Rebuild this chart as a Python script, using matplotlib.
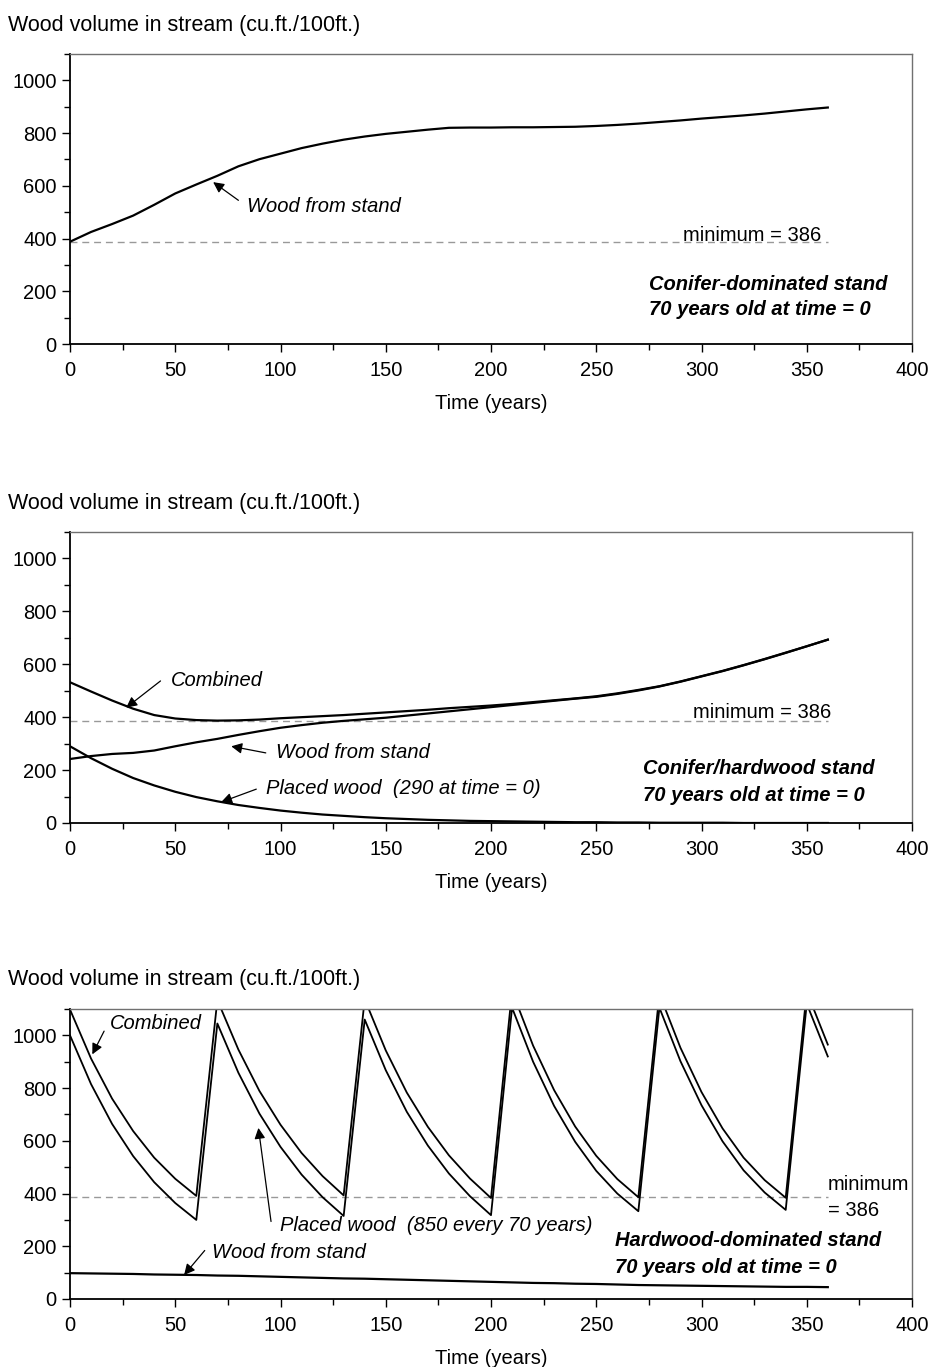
import numpy as np
import matplotlib.pyplot as plt
from matplotlib.ticker import MultipleLocator

plt.rcParams['font.family'] = ['Liberation Sans', 'DejaVu Sans']

# tiempo (años), salida cada 10 años
t = np.arange(0, 361, 10)
minimum = 386

# Panel 1: conifer-dominated
stand1 = [388, 425, 455, 487, 528, 571, 605, 638, 674, 701, 722, 743, 760, 775, 787, 797,
          805, 813, 820, 821, 821, 822, 822, 823, 824, 827, 831, 836, 842, 848, 855, 861,
          867, 874, 882, 890, 897]

# Panel 2: conifer/hardwood
stand2 = [242, 253, 261, 265, 274, 290, 305, 318, 333, 347, 360, 370, 379, 386, 392, 398,
          406, 414, 422, 430, 438, 446, 454, 462, 470, 477, 488, 501, 516, 534, 554, 574,
          596, 619, 643, 668, 693]
placed2 = [290, 245, 205, 170, 142, 118, 98, 82, 68, 57, 47, 39, 32, 27, 22, 18,
           15, 12, 10, 8, 7, 6, 5, 4, 3, 3, 2, 2, 1, 1, 1, 1,
           0, 0, 0, 0, 0]
combined2 = [532, 497, 463, 432, 408, 395, 389, 387, 388, 391, 396, 400, 404, 408, 413, 418,
             423, 428, 434, 439, 444, 450, 457, 464, 471, 479, 490, 503, 517, 535, 555, 575,
             597, 620, 644, 668, 693]

# Panel 3: hardwood-dominated (850 cada 70 años)
stand3 = [98, 97, 96, 95, 93, 92, 91, 89, 88, 86, 84, 82, 80, 78, 77, 75,
          73, 71, 69, 67, 65, 63, 61, 60, 58, 57, 55, 53, 52, 51, 50, 49,
          48, 47, 46, 46, 45]
placed3 = [1000, 815, 664, 542, 443, 364, 300,
           1045, 858, 703, 577, 472, 386, 315,
           1060, 868, 710, 582, 476, 390, 318,
           1105, 900, 732, 596, 486, 400, 333,
           1105, 902, 735, 598, 488, 404, 338,
           1120, 920]
combined3 = [1098, 912, 760, 637, 536, 456, 391,
             1134, 946, 789, 661, 554, 466, 393,
             1137, 943, 783, 653, 545, 457, 383,
             1168, 961, 792, 654, 543, 455, 386,
             1157, 953, 785, 647, 536, 451, 384,
             1166, 965]

W, H = 934, 1367
fig = plt.figure(figsize=(W / 100, H / 100), dpi=100)

FS = 14.5
arrow_kw = dict(arrowstyle='-|>', color='black', lw=0.9, mutation_scale=16,
                shrinkA=0, shrinkB=0)


def make_axes(top_px, bottom_px):
    ax = fig.add_axes([70 / W, 1 - bottom_px / H, (912 - 70) / W, (bottom_px - top_px) / H])
    ax.set_xlim(0, 400)
    ax.set_ylim(0, 1100)
    ax.xaxis.set_major_locator(MultipleLocator(50))
    ax.xaxis.set_minor_locator(MultipleLocator(25))
    ax.yaxis.set_major_locator(MultipleLocator(200))
    ax.yaxis.set_minor_locator(MultipleLocator(100))
    ax.tick_params(which='major', length=6, width=1, labelsize=FS)
    ax.tick_params(which='minor', length=4, width=1)
    ax.tick_params(axis='x', which='major', pad=6.5)
    ax.tick_params(axis='y', which='major', pad=3.5)
    for s in ['left', 'bottom']:
        ax.spines[s].set_linewidth(1.3)
    for s in ['top', 'right']:
        ax.spines[s].set_color('#707070')
        ax.spines[s].set_linewidth(1.0)
    ax.set_xlabel('Time (years)', fontsize=FS, labelpad=9.5)
    ax.plot([0, 360], [minimum, minimum], color='#999999', lw=1, dashes=(5, 3.5))
    fig.text(8 / W, 1 - (top_px - 29) / H, 'Wood volume in stream (cu.ft./100ft.)',
             fontsize=FS + 1, ha='left', va='center')
    return ax


# 1. Conifer-dominated
ax1 = make_axes(54, 344)
ax1.plot(t, stand1, color='black', lw=1.6)
ax1.annotate('', xy=(68, 614), xytext=(80, 545), arrowprops=arrow_kw)
ax1.text(84, 520, 'Wood from stand', fontsize=FS, style='italic', va='center')
ax1.text(291, 412, 'minimum = 386', fontsize=FS, va='center')
ax1.text(275, 227, 'Conifer-dominated stand', fontsize=FS, style='italic',
         weight='bold', va='center')
ax1.text(275, 129, '70 years old at time = 0', fontsize=FS, style='italic',
         weight='bold', va='center')

# 2. Conifer/hardwood
ax2 = make_axes(532, 823)
ax2.plot(t, combined2, color='black', lw=1.6)
ax2.plot(t, stand2, color='black', lw=1.6)
ax2.plot(t, placed2, color='black', lw=1.6)
ax2.annotate('', xy=(26.7, 436), xytext=(43, 537), arrowprops=arrow_kw)
ax2.text(48, 540, 'Combined', fontsize=FS, style='italic', va='center')
ax2.annotate('', xy=(76.6, 290), xytext=(93, 265), arrowprops=arrow_kw)
ax2.text(98, 266, 'Wood from stand', fontsize=FS, style='italic', va='center')
ax2.annotate('', xy=(71.8, 79), xytext=(88.5, 128), arrowprops=arrow_kw)
ax2.text(93, 129, 'Placed wood  (290 at time = 0)', fontsize=FS, style='italic', va='center')
ax2.text(296, 418, 'minimum = 386', fontsize=FS, va='center')
ax2.text(272, 205, 'Conifer/hardwood stand', fontsize=FS, style='italic',
         weight='bold', va='center')
ax2.text(272, 103, '70 years old at time = 0', fontsize=FS, style='italic',
         weight='bold', va='center')

# 3. Hardwood-dominated
ax3 = make_axes(1009, 1299)
ax3.plot(t, combined3, color='black', lw=1.3)
ax3.plot(t, placed3, color='black', lw=1.3)
ax3.plot(t, stand3, color='black', lw=1.6)
ax3.annotate('', xy=(10.6, 928), xytext=(16.2, 1016), arrowprops=arrow_kw)
ax3.text(19, 1046, 'Combined', fontsize=FS, style='italic', va='center')
ax3.annotate('', xy=(89.5, 649), xytext=(95.5, 294), arrowprops=arrow_kw)
ax3.text(100, 278, 'Placed wood  (850 every 70 years)', fontsize=FS, style='italic', va='center')
ax3.annotate('', xy=(54.2, 91), xytext=(64, 184), arrowprops=arrow_kw)
ax3.text(67.5, 175, 'Wood from stand', fontsize=FS, style='italic', va='center')
ax3.text(360, 433, 'minimum', fontsize=FS, va='center')
ax3.text(360, 335, '= 386', fontsize=FS, va='center')
ax3.text(259, 220, 'Hardwood-dominated stand', fontsize=FS, style='italic',
         weight='bold', va='center')
ax3.text(259, 118, '70 years old at time = 0', fontsize=FS, style='italic',
         weight='bold', va='center')

fig.savefig('out.png', dpi=100)
